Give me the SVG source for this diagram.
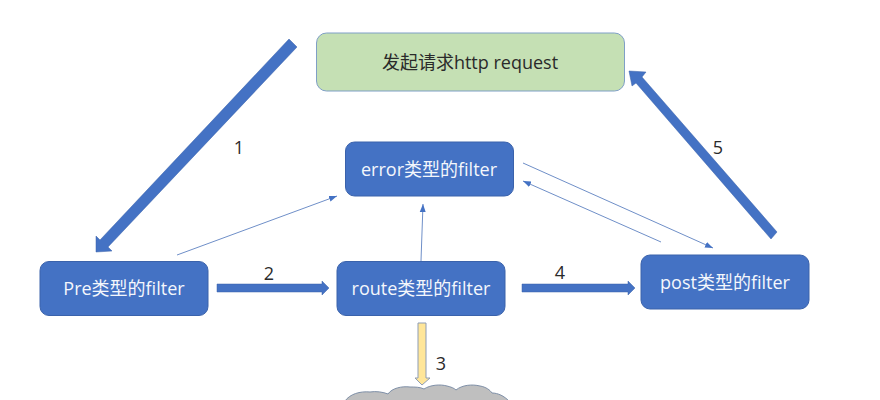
<svg xmlns="http://www.w3.org/2000/svg" width="880" height="400" viewBox="0 0 880 400">
<style>
.n{fill:#4472c4;stroke:#3a62ab;stroke-width:1}
.t{font-family:"Open Sans","Noto Sans CJK SC",sans-serif;font-size:18px;fill:#f4f7fc;text-anchor:middle}
.l{font-family:"Open Sans",sans-serif;font-size:18px;fill:#2a2a2a;text-anchor:middle}
.b{fill:#4472c4;stroke:#3a62ab;stroke-width:.5}
.a{stroke:#6f8fc8;stroke-width:1;fill:none;marker-end:url(#h)}
</style>
<defs><marker id="h" markerUnits="userSpaceOnUse" markerWidth="10" markerHeight="8" refX="8" refY="3.500" orient="auto"><path d="M0 0.500L8 3.500L0 6.500Z" fill="#4472c4"/></marker></defs>
<rect width="880" height="400" fill="#fff"/>
<g id="connectors">
<polygon class="b" points="289,39 297,47 108,247 112,251 96,252 96,236 100,240"/>
<polygon class="b" points="777,232 771,239 636,83 632,86 629,71 646,72 642,77"/>
<polygon class="b" points="217,284 322,284 322,281 329,288 322,295 322,292 217,292"/>
<polygon class="b" points="522,284 628,284 628,281 635,288 628,295 628,292 522,292"/>
<polygon points="418,323 426,323 426,378 430,378 422,385 415,378 418,378" fill="#ffe699" stroke="#8f9db5" stroke-width="1"/>
<line class="a" x1="177" y1="255" x2="337" y2="196"/>
<line class="a" x1="421" y1="261" x2="423" y2="204"/>
<line class="a" x1="523" y1="163" x2="713" y2="248"/>
<line class="a" x1="661" y1="242" x2="523" y2="181"/>
</g>
<g id="request"><rect x="316.500" y="33" width="308" height="58" rx="10" fill="#c5e0b4" stroke="#7f9fc6"/><text x="470" y="69" class="t" style="fill:#2a2a2a">发起请求http request</text></g>
<g id="error"><rect class="n" x="345.500" y="142" width="168" height="54" rx="9"/><text x="429" y="176" class="t">error类型的filter</text></g>
<g id="pre"><rect class="n" x="40" y="261.500" width="168" height="54" rx="9"/><text x="124" y="295" class="t">Pre类型的filter</text></g>
<g id="route"><rect class="n" x="337" y="261.500" width="168" height="54" rx="9"/><text x="421" y="295" class="t">route类型的filter</text></g>
<g id="post"><rect class="n" x="641" y="255" width="168" height="54" rx="9"/><text x="725" y="289" class="t">post类型的filter</text></g>
<g id="cloud"><path d="M345 401C350 394 360 391 370 392C376 391 383 392 388 394C392 388 402 386 410 387C415 387 420 387 424 389C430 385 440 384 447 386C451 387 454 388 456 390C462 385 472 384 480 386C486 387 490 390 492 393C498 393 504 396 509 401Z" fill="#bfbfbf" stroke="#7f90a8" stroke-width="1"/></g>
<g id="labels"><text x="239" y="154" class="l">1</text><text x="269" y="280" class="l">2</text><text x="441" y="370" class="l">3</text><text x="560" y="279" class="l">4</text><text x="718" y="154" class="l">5</text></g>
</svg>
